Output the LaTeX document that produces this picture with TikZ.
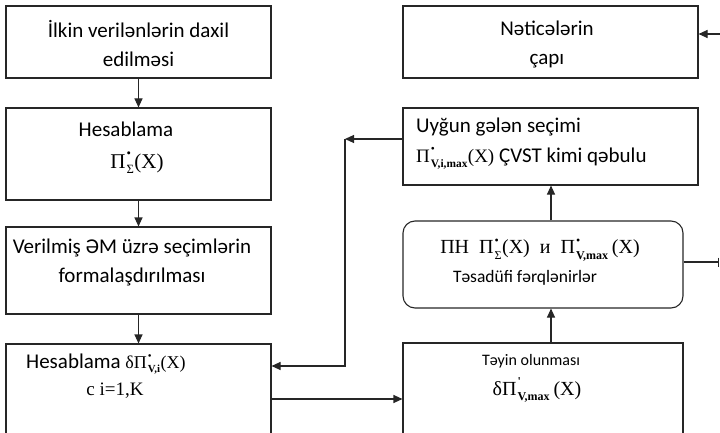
\documentclass[tikz,border=0pt]{standalone}
\usepackage{fontspec}
\setmainfont{Carlito}
\newfontfamily\mf{Liberation Serif}
\usetikzlibrary{arrows.meta}
\makeatletter
\newcommand{\ps}[2]{\kern1pt\begingroup\fontsize{\dimexpr0.6\dimexpr\f@size pt\relax\relax}{0pt}\selectfont\rlap{\raisebox{0.8em}{#1}}\raisebox{-0.45em}{#2}\endgroup\kern0.5pt}
\makeatother
\tikzset{
  box/.style={draw=black!85, line width=1.1pt, inner sep=0pt},
  rbox/.style={box, rounded corners=12pt},
  txt/.style={inner sep=0pt, align=center, font=\fontsize{21}{29}\selectfont},
  arr/.style={draw=black!85, line width=1.1pt, -{Triangle[length=9pt,width=8pt]}},
  ln/.style={draw=black!85, line width=1.1pt},
  barend/.style={draw=black!85, line width=1.1pt, -{Bar[width=9pt,line width=1.4pt]}}
}
\begin{document}
\begin{tikzpicture}[x=1pt,y=-1pt]
\useasboundingbox (0,0) rectangle (720,433);
\clip (0,0) rectangle (720,433);
% left column
\node[box, minimum width=265pt, minimum height=72pt] (b1) at (138.5,42) {};
\node[txt] (t1) at (138.5,44) {İlkin verilənlərin daxil\\edilməsi};
\node[box, minimum width=265pt, minimum height=92pt] (b2) at (138.5,154) {};
\node[inner sep=0pt, anchor=base, font=\fontsize{21}{29}\selectfont] (t2a) at (126,137) {Hesablama};
\node[inner sep=0pt, anchor=base, font=\mf\fontsize{21}{27}\selectfont] (t2b) at (137,168) {Π\ps{•}{Σ}(X)};
\node[box, minimum width=265pt, minimum height=87pt] (b3) at (138.5,270.5) {};
\node[txt] (t3) at (132,262) {Verilmiş ƏM üzrə seçimlərin\\formalaşdırılması};
\node[box, minimum width=265pt, minimum height=102pt] (b4) at (138.5,395) {};
\node[txt, anchor=west] (t4) at (26,364) {Hesablama {\mf\fontsize{18}{24}\selectfont δΠ\ps{•}{\textbf{V,i}}(X)}};
\node[inner sep=0pt, font=\mf\fontsize{19}{24}\selectfont] (t4b) at (115,391) {с i=1,K};
% right column
\node[box, minimum width=295pt, minimum height=72pt] (b5) at (550.5,42) {};
\node[txt] (t5) at (547,44) {Nəticələrin\\çapı};
\node[box, minimum width=295pt, minimum height=77pt] (b6) at (550.5,146.5) {};
\node[inner sep=0pt, anchor=base west, font=\fontsize{21}{27}\selectfont] (t6a) at (416,133) {Uyğun gələn seçimi};
\node[inner sep=0pt, anchor=base west, font=\fontsize{21}{27}\selectfont] (t6b) at (416,162) {{\mf\fontsize{19}{27}\selectfont Π\ps{•}{\textbf{V,i,max}}(X)} ÇVST kimi qəbulu};
\node[rbox, minimum width=280pt, minimum height=87pt] (r) at (543,264.5) {};
\node[inner sep=0pt, font=\mf\fontsize{20}{27}\selectfont] (t7) at (540,250) {ПН\ \ Π\ps{•}{Σ}(X)\ \ и\ \ Π\ps{•}{\textbf{V,max}}\,(X)};
\node[inner sep=0pt, font=\fontsize{17.5}{22}\selectfont] (t7b) at (525,278) {Təsadüfi fərqlənirlər};
\node[box, minimum width=280pt, minimum height=102pt] (b7) at (543,394) {};
\node[inner sep=0pt, font=\fontsize{16}{22}\selectfont] (t8) at (531,361) {Təyin olunması};
\node[inner sep=0pt, font=\mf\fontsize{20}{27}\selectfont] (t8b) at (537,390) {δΠ\ps{\textbf{'}}{\textbf{V,max}}\,(X)};
% coordinates
\coordinate (cx) at (551,0);
\coordinate (c1) at (345,139);
\coordinate (y1) at (0,366);
\coordinate (y2) at (0,399);
\coordinate (re) at (719,262);
\coordinate (rt) at (720,34);
% connectors
\draw[arr] (b1.south) -- (b2.north);
\draw[arr] (b2.south) -- (b3.north);
\draw[arr] (b3.south) -- (b4.north);
\draw[arr] (b7.north -| cx) -- (r.south -| cx);
\draw[arr] (r.north -| cx) -- (b6.south -| cx);
\draw[arr] (b6.west |- c1) -- (c1);
\draw[arr] (c1) |- (b4.east |- y1);
\draw[arr] (b4.east |- y2) -- (b7.west |- y2);
\draw[barend] (r.east |- re) -- (re);
\draw[arr] (rt) -- (b5.east |- rt);
\end{tikzpicture}
\end{document}
